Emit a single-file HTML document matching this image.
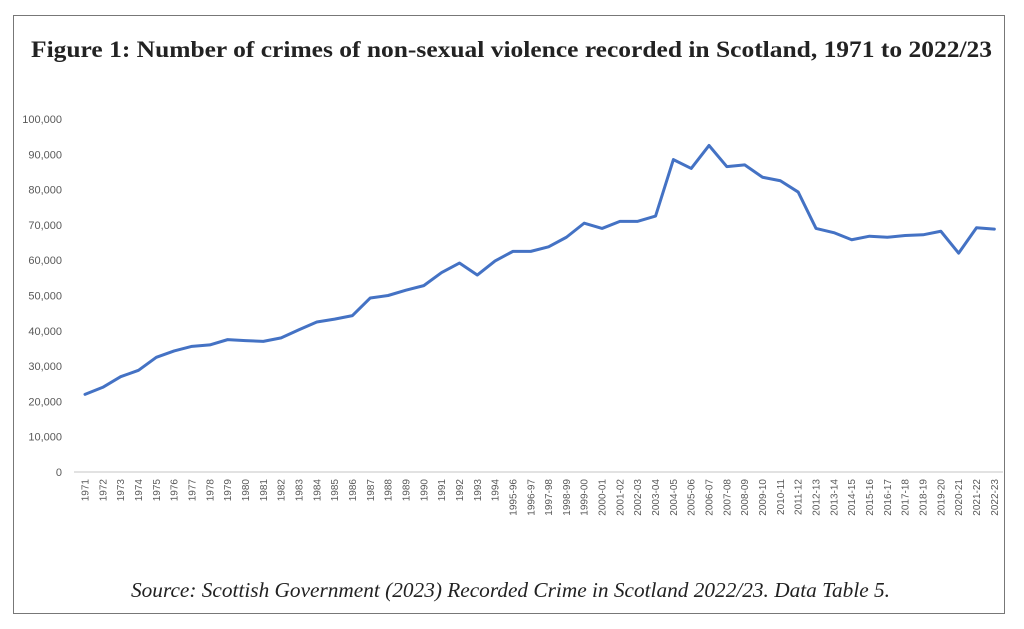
<!DOCTYPE html>
<html><head><meta charset="utf-8"><style>
html,body{margin:0;padding:0;background:#fff;}
body{width:1024px;height:629px;overflow:hidden;position:relative;}
#frame{position:absolute;left:13px;top:15px;width:992px;height:599px;border:1.5px solid #777;box-sizing:border-box;}
</style></head><body>
<div id="frame"></div>
<svg id="c" width="1024" height="629" style="position:absolute;left:0;top:0">
<text x="31" y="57" textLength="961" lengthAdjust="spacingAndGlyphs" font-family="'Liberation Serif',serif" font-weight="bold" font-size="23" fill="#222">Figure 1: Number of crimes of non-sexual violence recorded in Scotland, 1971 to 2022/23</text>
<text x="131" y="597" textLength="759" lengthAdjust="spacingAndGlyphs" font-family="'Liberation Serif',serif" font-style="italic" font-size="21" fill="#222">Source: Scottish Government (2023) Recorded Crime in Scotland 2022/23. Data Table 5.</text>
<line x1="74" y1="472" x2="1003" y2="472" stroke="#d9d9d9" stroke-width="1.5"/>
</svg>
<script>
var s=document.getElementById('c'),ns='http://www.w3.org/2000/svg';
var cats=[];for(var y=1971;y<=1994;y++)cats.push(''+y);
for(var y=1995;y<=2022;y++)cats.push(y+'-'+String((y+1)%100).padStart(2,'0'));
var v=[22,24,27,28.8,32.5,34.3,35.6,36,37.5,37.2,37,38,40.3,42.5,43.3,44.3,49.3,50,51.5,52.8,56.5,59.2,55.8,59.8,62.5,62.5,63.8,66.5,70.5,69,71,71,72.5,88.5,86,92.5,86.5,87,83.5,82.5,79.3,69,67.8,65.8,66.8,66.5,67,67.2,68.2,62,69.2,68.8];
function X(i){return 85+i*17.83;}function Y(k){return 472-k*3.53;}
function el(t,a,txt){var e=document.createElementNS(ns,t);for(var k in a)e.setAttribute(k,a[k]);if(txt!=null)e.textContent=txt;s.appendChild(e);return e;}
for(var k=0;k<=10;k++){el('text',{x:62,y:Y(k*10)+4,'text-anchor':'end','font-family':"'Liberation Sans',sans-serif",'font-size':'11',fill:'#595959'},k==0?'0':(k*10)+',000');}
cats.forEach(function(c,i){var x=X(i)+3.5;el('text',{x:x,y:479,transform:'rotate(-90 '+x+' 479)','text-anchor':'end','font-family':"'Liberation Sans',sans-serif",'font-size':'10',fill:'#595959'},c);});
el('polyline',{points:v.map(function(k,i){return X(i)+','+Y(k);}).join(' '),fill:'none',stroke:'#4472C4','stroke-width':'3','stroke-linejoin':'round','stroke-linecap':'round'});
</script>
</body></html>
